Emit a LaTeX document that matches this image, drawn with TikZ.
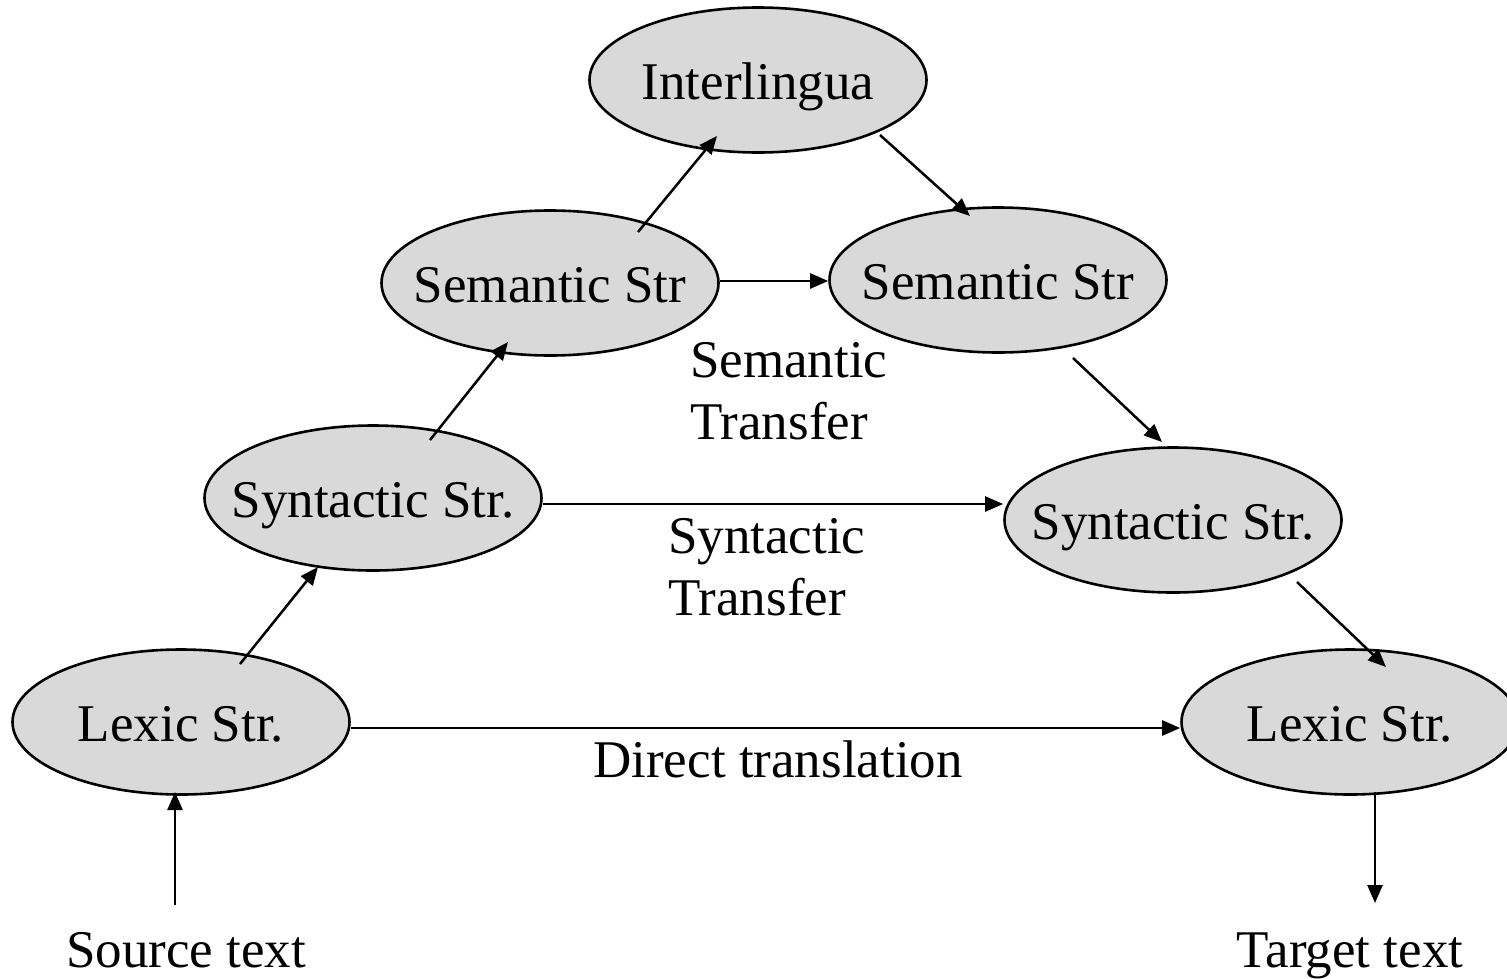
\documentclass[tikz,border=0pt]{standalone}
\usepackage{fontspec}
\setmainfont{Liberation Serif}
\usetikzlibrary{arrows.meta,shapes.geometric}
\definecolor{nodefill}{HTML}{D9D9D9}
\begin{document}
\begin{tikzpicture}[x=1pt,y=-1pt,
  stage/.style={ellipse, draw=black, line width=2.6pt, fill=nodefill,
    minimum width=337pt, minimum height=145pt, inner sep=0pt,
    text height=38pt, text depth=0pt, font=\fontsize{53}{62}\selectfont},
  lbl/.style={font=\fontsize{53}{62}\selectfont, inner sep=0pt},
  arr/.style={line width=2.5pt, -{Triangle[length=18pt,width=15pt]}}]
\useasboundingbox (0,0) rectangle (1507,978);
% stages
\node[stage] (inter) at (758,80)   {\makebox[0pt]{Interlingua}};
\node[stage] (semL)  at (550,283)  {\makebox[0pt]{Semantic Str}};
\node[stage] (semR)  at (998,280)  {\makebox[0pt]{Semantic Str}};
\node[stage] (synL)  at (373,498)  {\makebox[0pt]{Syntactic Str.}};
\node[stage] (synR)  at (1173,520) {\makebox[0pt]{Syntactic Str.}};
\node[stage] (lexL)  at (181,722)  {\makebox[0pt]{Lexic Str.}};
\node[stage] (lexR)  at (1350,722) {\makebox[0pt]{Lexic Str.}};
% labels
\node[lbl, anchor=base west, align=left] (semtr) at (690,439) {Semantic\\Transfer};
\node[lbl, anchor=base west, align=left] (syntr) at (668,615) {Syntactic\\Transfer};
\node[lbl, anchor=base] (direct) at (778,777) {Direct translation};
\node[lbl, anchor=base] (src) at (186,967) {Source text};
\node[lbl, anchor=base] (tgt) at (1350,967) {Target text};
% connector end points
\coordinate (a1s) at (240,664);  \coordinate (a1e) at (318,567);
\coordinate (a2s) at (430,440);  \coordinate (a2e) at (508,342);
\coordinate (a3s) at (638,232);  \coordinate (a3e) at (717,136);
\coordinate (a4s) at (880,135);  \coordinate (a4e) at (970,216);
\coordinate (a5s) at (1073,358); \coordinate (a5e) at (1162,442);
\coordinate (a6s) at (1297,582); \coordinate (a6e) at (1386,667);
\coordinate (srcTop) at (175,905); \coordinate (lexLb) at (175,792);
\coordinate (lexRb) at (1375,792); \coordinate (tgtTop) at (1375,903);
% connectors
\draw[arr] (a1s) -- (a1e);
\draw[arr] (a2s) -- (a2e);
\draw[arr] (a3s) -- (a3e);
\draw[arr] (a4s) -- (a4e);
\draw[arr] (a5s) -- (a5e);
\draw[arr] (a6s) -- (a6e);
\draw[arr] (semL.east |- 0,281) -- (semR.west |- 0,281);
\draw[arr] (synL.east |- 0,504) -- (synR.west |- 0,504);
\draw[arr] (lexL.east |- 0,728) -- (lexR.west |- 0,728);
\draw[arr] (srcTop) -- (lexLb);
\draw[arr] (lexRb) -- (tgtTop);
\end{tikzpicture}
\end{document}
